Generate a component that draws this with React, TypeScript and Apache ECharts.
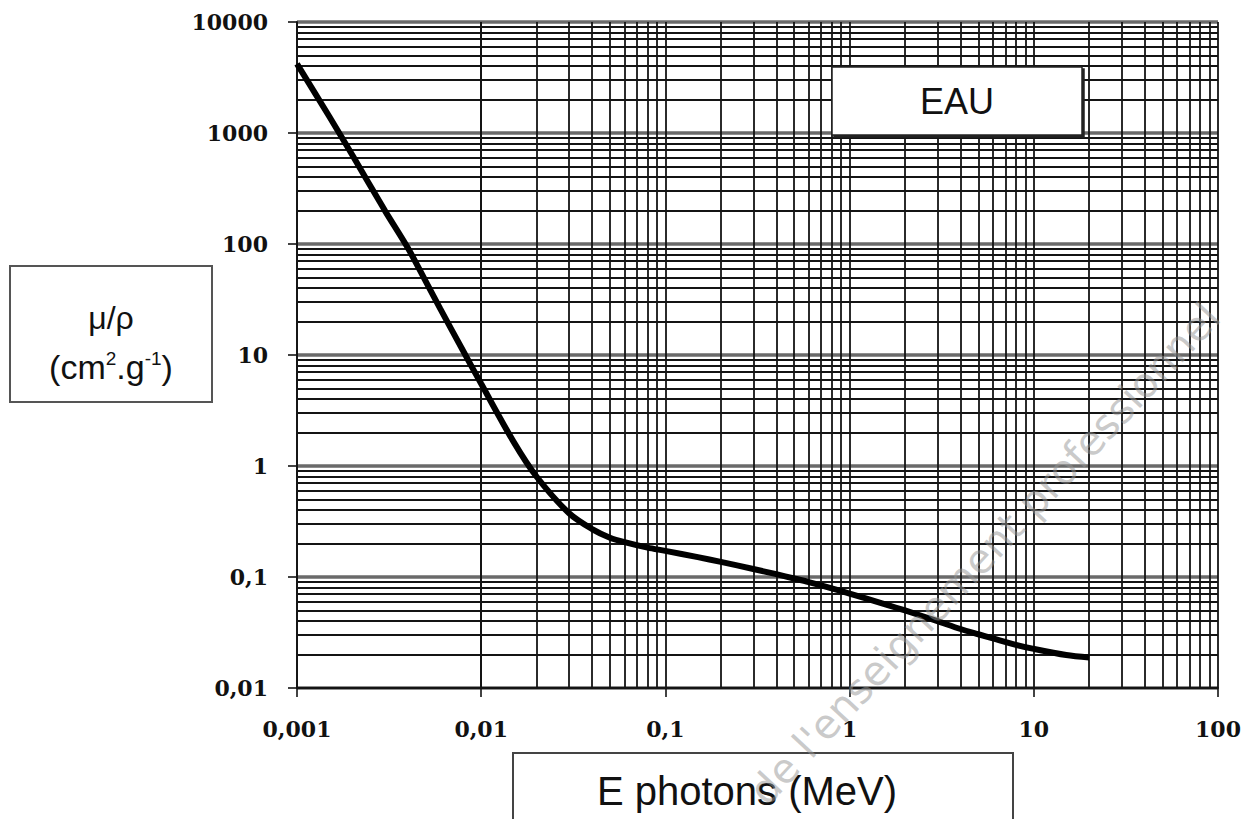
import React, { useEffect, useRef } from "react";
import * as echarts from "echarts";

// Photon energy (MeV)
const energies = [0.001, 0.0015, 0.002, 0.003, 0.004, 0.005, 0.006, 0.008, 0.01, 0.015, 0.02, 0.03, 0.04, 0.05, 0.06, 0.08, 0.1, 0.15, 0.2, 0.3, 0.4, 0.5, 0.6, 0.8, 1, 1.5, 2, 3, 4, 5, 6, 8, 10, 15, 20];
// Mass attenuation coefficient of water (cm2/g)
const muRho = [4200, 1400, 630, 200, 92, 46, 26, 10.8, 5.5, 1.65, 0.8, 0.375, 0.27, 0.226, 0.206, 0.184, 0.172, 0.151, 0.137, 0.118, 0.106, 0.097, 0.09, 0.079, 0.071, 0.058, 0.05, 0.04, 0.034, 0.0305, 0.028, 0.0245, 0.0225, 0.0198, 0.0188];

const xTickValues = [0.001, 0.01, 0.1, 1, 10, 100];
const xTickLabels = ["0,001", "0,01", "0,1", "1", "10", "100"];
const yTickValues = [0.01, 0.1, 1, 10, 100, 1000, 10000];
const yTickLabels = ["0,01", "0,1", "1", "10", "100", "1000", "10000"];
const minorMultipliers = [2, 3, 4, 5, 6, 7, 8, 9];

const seriesName = "EAU";
const xName = "E photons (MeV)";
const yNameLine1 = "μ/ρ";
const watermark = "de l'enseignement professionnel";

function labelFor(values: number[], labels: string[], v: number) {
  const idx = values.findIndex((t) => Math.abs(Math.log10(t) - Math.log10(v)) < 1e-6);
  return idx >= 0 ? labels[idx] : "";
}

function minorValues(majors: number[]) {
  const out: number[] = [];
  for (let i = 0; i < majors.length - 1; i++) {
    for (const m of minorMultipliers) out.push(majors[i] * m);
  }
  return out;
}

export default function App() {
  const ref = useRef<HTMLDivElement>(null);
  useEffect(() => {
    if (!ref.current) return;
    const chart = echarts.init(ref.current, undefined, { renderer: "svg" });
    const gridLeft = 297;
    const gridTop = 22;
    const gridRight = 1247 - 1218;
    const gridBottom = 819 - 688;
    const minorStyle = { color: "#141414", width: 1.8, type: "solid" as const };

    const option: any = {
      animation: false,
      backgroundColor: "#ffffff",
      grid: { left: gridLeft, top: gridTop, right: gridRight, bottom: gridBottom, containLabel: false },
      xAxis: {
        type: "log",
        logBase: 10,
        min: 0.001,
        max: 100,
        axisLine: { show: true, lineStyle: { color: "#141414", width: 1.8 } },
        axisTick: { show: true, inside: false, length: 9, lineStyle: { color: "#141414", width: 1.6 } },
        axisLabel: {
          margin: 30,
          color: "#111",
          fontFamily: "DejaVu Serif",
          fontWeight: "bold",
          fontSize: 22,
          formatter: (v: number) => labelFor(xTickValues, xTickLabels, v),
        },
        splitLine: { show: true, lineStyle: { color: "#141414", width: 1.8 } },
      },
      yAxis: {
        type: "log",
        logBase: 10,
        min: 0.01,
        max: 10000,
        axisLine: { show: true, lineStyle: { color: "#141414", width: 1.8 } },
        axisTick: { show: true, inside: false, length: 9, lineStyle: { color: "#141414", width: 1.6 } },
        axisLabel: {
          margin: 29,
          color: "#111",
          fontFamily: "DejaVu Serif",
          fontWeight: "bold",
          fontSize: 22,
          formatter: (v: number) => labelFor(yTickValues, yTickLabels, v),
        },
        splitLine: { show: true, lineStyle: { color: "#6a6a6a", width: 3.5 } },
      },
      series: [
        {
          type: "line",
          name: "minor-grid",
          data: [],
          silent: true,
          z: 1,
          markLine: {
            silent: true,
            symbol: "none",
            label: { show: false },
            lineStyle: minorStyle,
            emphasis: { disabled: true },
            data: [
              ...minorValues(xTickValues).map((v) => ({ xAxis: v, lineStyle: minorStyle })),
              ...minorValues(yTickValues).map((v) => ({ yAxis: v, lineStyle: minorStyle })),
            ],
          },
        },
        {
          type: "line",
          name: seriesName,
          data: energies.map((e, i) => [e, muRho[i]]),
          smooth: 0.3,
          showSymbol: false,
          symbol: "none",
          z: 5,
          lineStyle: { color: "#000", width: 6 },
        },
      ],
      graphic: [
        {
          type: "rect",
          z: 50,
          shape: { x: 832, y: 67, width: 250, height: 68 },
          style: { fill: "#fff", stroke: "#222", lineWidth: 1.5, shadowColor: "#222", shadowOffsetX: 2, shadowOffsetY: 2, shadowBlur: 0 },
        },
        {
          type: "text",
          z: 51,
          x: 957,
          y: 101,
          style: { text: seriesName, fontSize: 36, fontFamily: "Liberation Sans", fill: "#111", align: "center", verticalAlign: "middle" },
        },
        {
          type: "rect",
          z: 50,
          shape: { x: 10, y: 266, width: 202, height: 136 },
          style: { fill: "#fff", stroke: "#555", lineWidth: 2 },
        },
        {
          type: "text",
          z: 51,
          x: 111,
          y: 318,
          style: { text: yNameLine1, fontSize: 32, fontFamily: "Liberation Sans", fill: "#111", align: "center", verticalAlign: "middle" },
        },
        {
          type: "text",
          z: 51,
          x: 111,
          y: 367,
          style: {
            text: "{m|(cm}{s|2}{m|.g}{s|-1}{m|)}",
            align: "center",
            verticalAlign: "middle",
            rich: {
              m: { fontSize: 34, fontFamily: "Liberation Sans", fill: "#111", lineHeight: 36, verticalAlign: "middle" },
              s: { fontSize: 19, fontFamily: "Liberation Sans", fill: "#111", lineHeight: 22, verticalAlign: "top" },
            },
          },
        },
        {
          type: "rect",
          z: 50,
          shape: { x: 513, y: 753, width: 500, height: 90 },
          style: { fill: "#fff", stroke: "#444", lineWidth: 2 },
        },
        {
          type: "text",
          z: 51,
          x: 747,
          y: 791,
          style: { text: xName, fontSize: 40, fontFamily: "Liberation Sans", fill: "#111", align: "center", verticalAlign: "middle" },
        },
        {
          type: "text",
          z: 100,
          x: 772,
          y: 812,
          rotation: (47 * Math.PI) / 180,
          style: { text: watermark, fontSize: 41, fontFamily: "DejaVu Sans", fill: "rgba(150,150,150,0.5)", align: "left", verticalAlign: "bottom" },
        },
      ],
    };
    chart.setOption(option);
    return () => chart.dispose();
  }, []);
  return <div ref={ref} style={{ position: "fixed", left: 0, top: 0, width: 1247, height: 819 }} />;
}
